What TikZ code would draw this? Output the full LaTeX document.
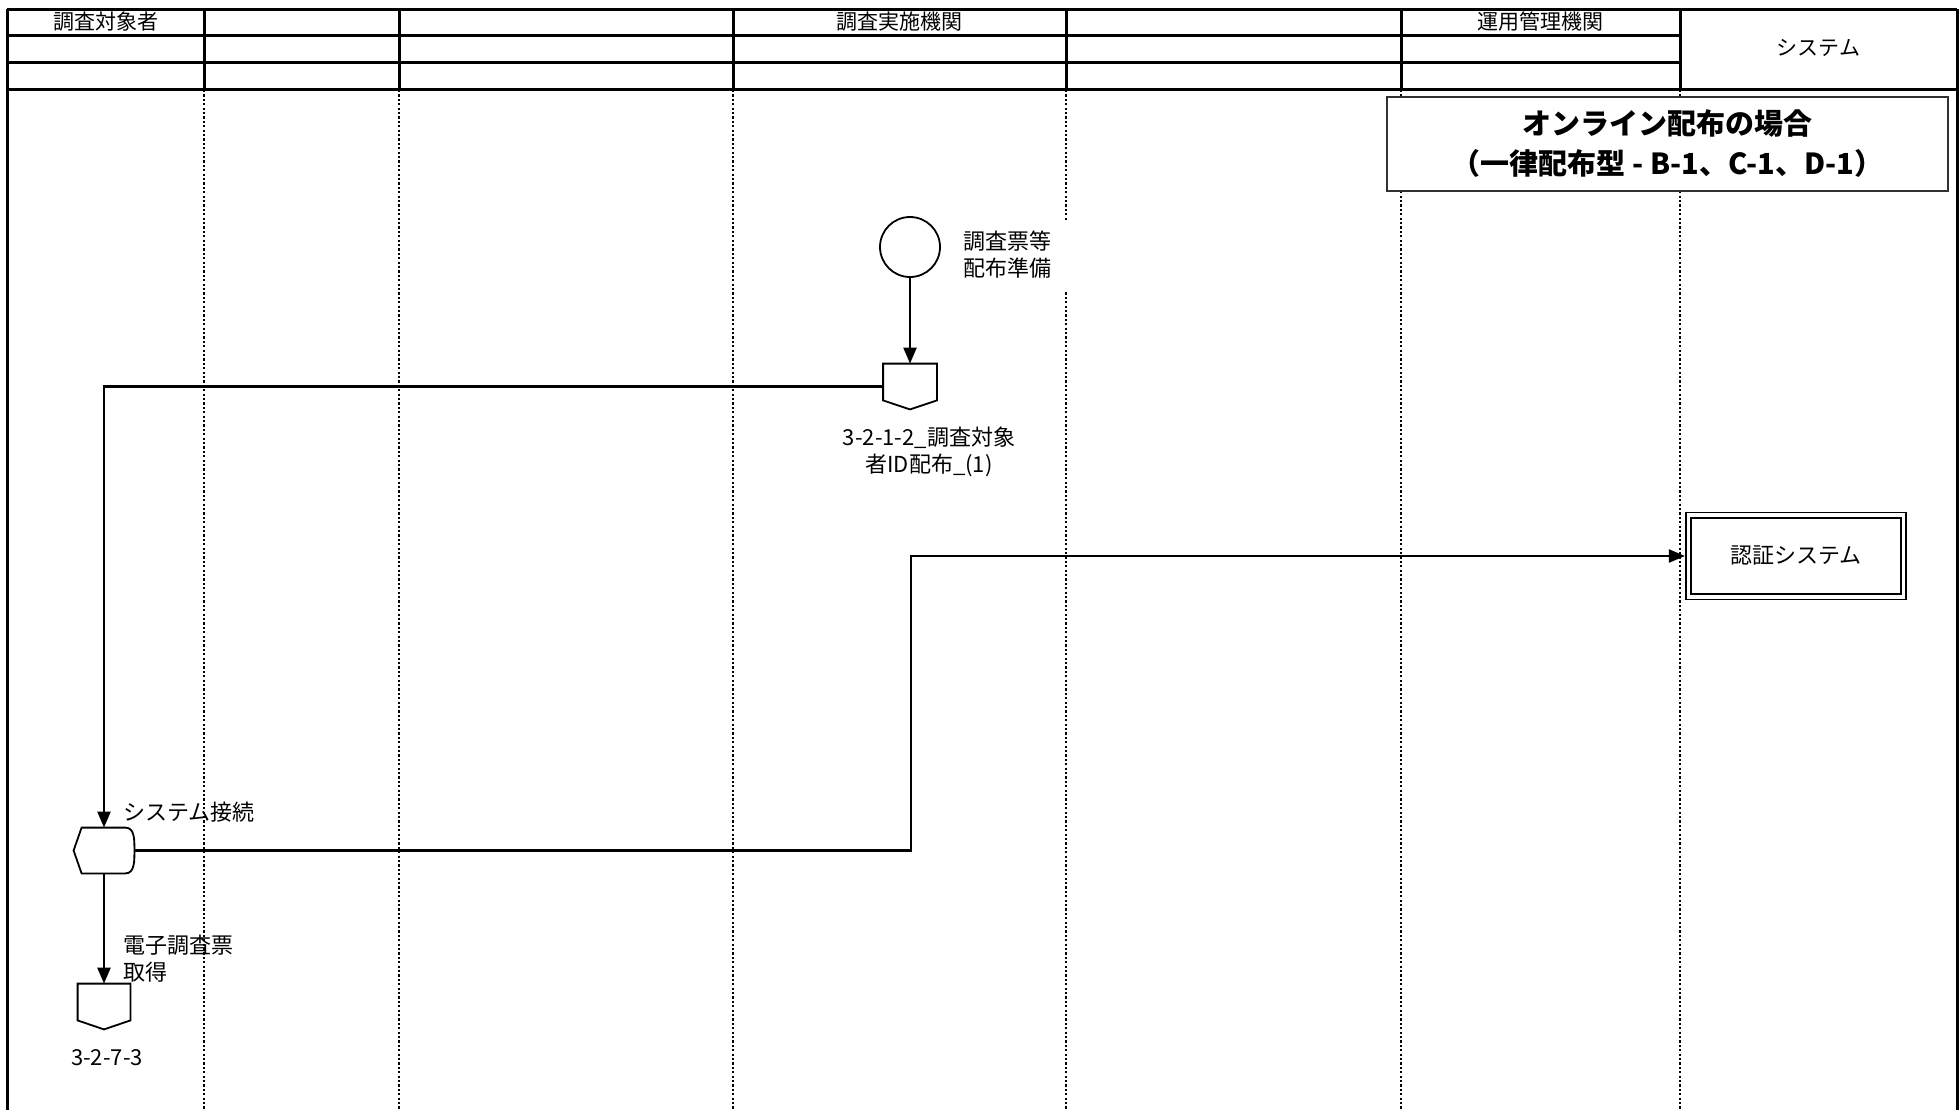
\documentclass[tikz,border=0pt]{standalone}
\usepackage{fontspec}
\setmainfont{Noto Sans CJK JP}
\usepackage{xcolor}
\usepackage{tikz}
\usetikzlibrary{arrows.meta, positioning, calc}
\definecolor{flink}{RGB}{0,0,0}
\definecolor{flframe}{RGB}{50,50,50}

\tikzset{
  hdr/.style={flink, line width=1.5pt},
  lane/.style={flink, line width=1.2pt, dash pattern=on 1.1pt off 1.1pt},
  shp/.style={flink, line width=0.9pt},
  arr/.style={flink, line width=1.1pt, -{Triangle[length=8pt, width=6.5pt]}},
  htxt/.style={font=\fontsize{10.5}{12}\selectfont, inner sep=0pt},
  lbl/.style={font=\fontsize{11}{13.5}\selectfont, inner sep=0pt, align=left},
  blank/.style={inner sep=0pt, minimum width=26.5pt, minimum height=22.5pt},
}

\begin{document}
\begin{tikzpicture}[x=0.5pt, y=-0.5pt]
\useasboundingbox (0,0) rectangle (1959,1110);

% ---- header grid ----
\draw[hdr] (7,9) -- (1957,9);
\foreach \yy in {35,62}{\draw[hdr] (7,\yy) -- (1680,\yy);}
\draw[hdr] (7,89) -- (1957,89);
\draw[hdr] (7,9) -- (7,1110);
\draw[hdr] (1957,9) -- (1957,1110);
\foreach \xx in {204,399,733,1066,1401,1680}{
  \draw[hdr] (\xx,9) -- (\xx,89);
  \draw[lane] (\xx,90) -- (\xx,1110);
}
\node[htxt] (hSubject) at (105.5,22) {調査対象者};
\node[htxt] (hSurvey) at (899.5,22) {調査実施機関};
\node[htxt] (hOps) at (1540.5,22) {運用管理機関};
\node[htxt] (hSystem) at (1818.5,48) {システム};

% ---- title box ----
\node[draw=flframe, line width=1pt, fill=white, minimum width=280.5pt, minimum height=47pt,
  align=center, font=\bfseries\fontsize{14.5}{20}\selectfont] (title) at (1667.5,144)
  {オンライン配布の場合\\（一律配布型 - B-1、C-1、D-1）};

% ---- preparation ----
\node[circle, draw, shp, minimum size=30pt, inner sep=0pt] (prep) at (910,247) {};
\node[lbl, fill=white, text width=50pt, minimum height=35.5pt, inner xsep=3pt, anchor=west]
  (prepLbl) at (957,255) {調査票等\\配布準備};

% offpage: ID distribution
\node[blank] (idDist) at (910,386.5) {};
\draw[shp] (idDist.north west) -- (idDist.north east) -- ([yshift=4.5pt]idDist.south east)
  -- (idDist.south) -- ([yshift=4.5pt]idDist.south west) -- cycle;
\node[lbl, align=center] (idDistLbl) at (929,452) {3-2-1-2\_調査対象\\者ID配布\_(1)};

% ---- system connect (display) ----
\node[blank, minimum width=30pt] (sysConn) at (104,850.5) {};
\draw[shp] (sysConn.west) -- ([xshift=4pt]sysConn.north west) -- ([xshift=-4.5pt]sysConn.north east)
  to[out=0, in=90] (sysConn.east) to[out=-90, in=0] ([xshift=-4.5pt]sysConn.south east)
  -- ([xshift=4pt]sysConn.south west) -- cycle;
\node[lbl, anchor=west] (sysConnLbl) at (123,812) {システム接続};

% offpage: questionnaire
\node[blank, minimum width=26pt] (getForm) at (104,1006.5) {};
\draw[shp] (getForm.north west) -- (getForm.north east) -- ([yshift=4.5pt]getForm.south east)
  -- (getForm.south) -- ([yshift=4.5pt]getForm.south west) -- cycle;
\node[lbl, anchor=west] (getFormLbl) at (123,959) {電子調査票\\取得};
\node[lbl] (getFormId) at (107,1058) {3-2-7-3};

% ---- auth system ----
\node[draw, flink, line width=0.9pt, double, double distance=1.8pt, outer sep=1.8pt,
  minimum width=107.5pt, minimum height=40.75pt, font=\fontsize{11}{13}\selectfont]
  (auth) at (1796,556) {認証システム};

% ---- connectors ----
\coordinate (turn) at (911,556);
\draw[arr] (prep) -- (idDist);
\draw[arr] (idDist.west) -| (sysConn.north);
\draw[arr] (sysConn.east) -| (turn) -- (auth.west);
\draw[arr] (sysConn) -- (getForm);
\end{tikzpicture}
\end{document}
